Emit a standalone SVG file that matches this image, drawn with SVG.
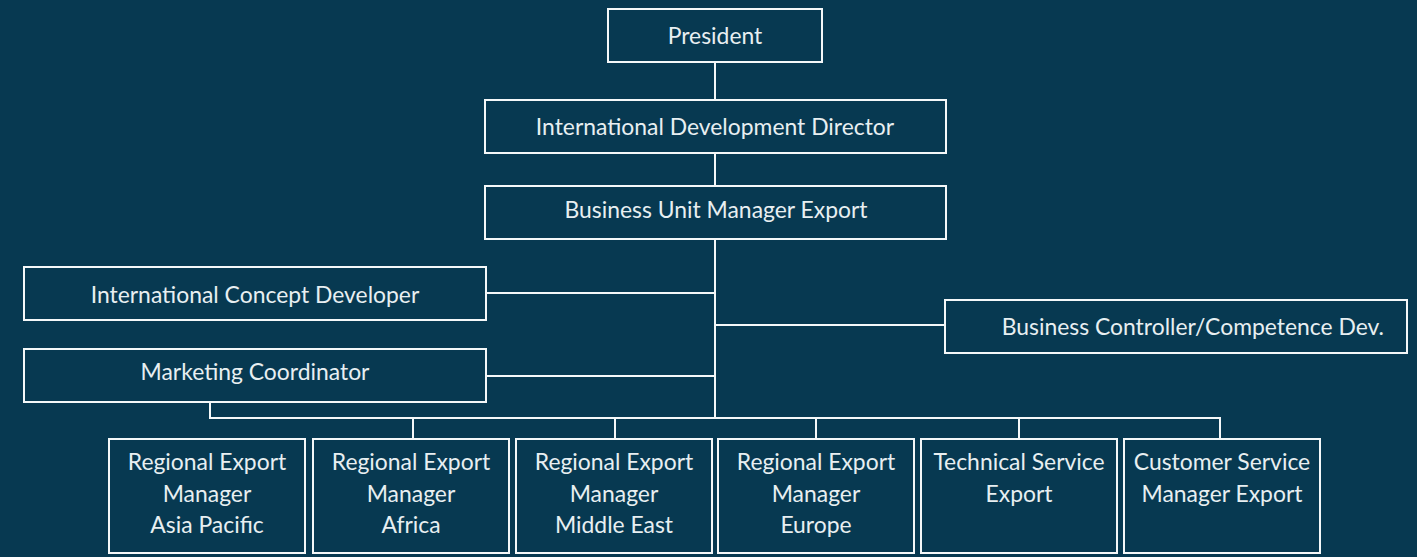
<svg xmlns="http://www.w3.org/2000/svg" width="1417" height="557" viewBox="0 0 1417 557">
<style>
.box{fill:#073951;stroke:#F4F8F9;stroke-width:2}
.ln{fill:none;stroke:#F4F8F9;stroke-width:2}
text{font-family:Lato,"Open Sans",sans-serif;font-size:22.9px;fill:#E8EFF1;text-anchor:middle}
</style>
<rect width="1417" height="557" fill="#073951"/>
<g id="connectors" class="ln">
<path d="M715 62V418"/>
<path d="M486 293H715"/>
<path d="M486 376H715"/>
<path d="M715 325H945"/>
<path d="M210 402V418H1220V438"/>
<path d="M413 418V438M615 418V438M816 418V438M1019 418V438"/>
</g>
<g id="president"><rect class="box" x="608" y="9" width="214" height="53"/><text x="715" y="44">President</text></g>
<g id="idd"><rect class="box" x="485" y="100" width="461" height="53"/><text x="715" y="135">International Development Director</text></g>
<g id="bume"><rect class="box" x="485" y="186" width="461" height="53"/><text x="716" y="218">Business Unit Manager Export</text></g>
<g id="icd"><rect class="box" x="24" y="267" width="462" height="53"/><text x="255" y="303">International Concept Developer</text></g>
<g id="mc"><rect class="box" x="24" y="349" width="462" height="53"/><text x="255" y="380">Marketing Coordinator</text></g>
<g id="bccd"><rect class="box" x="945" y="300" width="462" height="53"/><text x="1384" y="335" style="text-anchor:end">Business Controller/Competence Dev.</text></g>
<g id="rem-ap"><rect class="box" x="109" y="439" width="196" height="114"/><text x="207" y="470">Regional Export</text><text x="207" y="502">Manager</text><text x="207" y="533">Asia Pacific</text></g>
<g id="rem-af"><rect class="box" x="313" y="439" width="196" height="114"/><text x="411" y="470">Regional Export</text><text x="411" y="502">Manager</text><text x="411" y="533">Africa</text></g>
<g id="rem-me"><rect class="box" x="516" y="439" width="196" height="114"/><text x="614" y="470">Regional Export</text><text x="614" y="502">Manager</text><text x="614" y="533">Middle East</text></g>
<g id="rem-eu"><rect class="box" x="718" y="439" width="196" height="114"/><text x="816" y="470">Regional Export</text><text x="816" y="502">Manager</text><text x="816" y="533">Europe</text></g>
<g id="tse"><rect class="box" x="921" y="439" width="196" height="114"/><text x="1019" y="470">Technical Service</text><text x="1019" y="502">Export</text></g>
<g id="csme"><rect class="box" x="1124" y="439" width="196" height="114"/><text x="1222" y="470">Customer Service</text><text x="1222" y="502">Manager Export</text></g>
</svg>
